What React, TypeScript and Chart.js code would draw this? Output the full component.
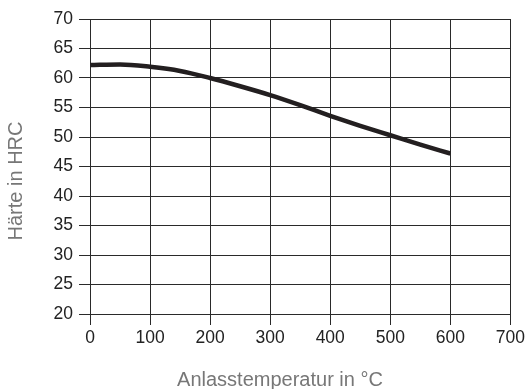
import React, { useEffect, useRef } from "react";
import { Chart, registerables } from "chart.js";

Chart.register(...registerables);

const temperatures = [0, 50, 100, 150, 200, 250, 300, 350, 400, 450, 500, 550, 600];
const hardness = [62.2, 62.3, 61.9, 61.2, 60.0, 58.6, 57.1, 55.4, 53.6, 51.9, 50.3, 48.7, 47.2];
const xTitle = "Anlasstemperatur in °C";
const yTitle = "Härte in HRC";

const titlePlugin = {
  id: "axisTitles",
  afterDraw(chart: any) {
    const ctx = chart.ctx as CanvasRenderingContext2D;
    ctx.save();
    ctx.fillStyle = "#777";
    ctx.font = "20px 'Liberation Sans'";
    ctx.textAlign = "center";
    ctx.textBaseline = "middle";
    ctx.fillText(xTitle, 280, 380);
    ctx.translate(16, 181);
    ctx.rotate(-Math.PI / 2);
    ctx.fillText(yTitle, 0, 0);
    ctx.restore();
  },
};

export default function App() {
  const ref = useRef<HTMLCanvasElement>(null);
  useEffect(() => {
    const ctx = ref.current!;
    const chart = new Chart(ctx, {
      type: "line",
      data: {
        datasets: [
          {
            data: temperatures.map((t, i) => ({ x: t, y: hardness[i] })),
            borderColor: "#231f20",
            borderWidth: 4.5,
            pointRadius: 0,
            cubicInterpolationMode: "monotone",
            fill: false,
          },
        ],
      },
      options: {
        responsive: false,
        animation: false,
        layout: { padding: { top: 19, right: 0, bottom: 0, left: 0 } },
        plugins: { legend: { display: false }, tooltip: { enabled: false } },
        scales: {
          x: {
            type: "linear",
            min: 0,
            max: 700,
            afterFit: (s: any) => {
              s.height = 75;
            },
            ticks: {
              stepSize: 100,
              color: "#222",
              padding: 3,
              font: { family: "Liberation Sans", size: 17.5 },
            },
            grid: { color: "#2a2a2a", lineWidth: 1, tickLength: 11 },
            border: { color: "#2a2a2a", width: 1 },
          },
          y: {
            min: 20,
            max: 70,
            afterFit: (s: any) => {
              s.width = 90;
            },
            ticks: {
              stepSize: 5,
              color: "#222",
              padding: 6,
              font: { family: "Liberation Sans", size: 17.5 },
            },
            grid: { color: "#2a2a2a", lineWidth: 1, tickLength: 11 },
            border: { color: "#2a2a2a", width: 1 },
          },
        },
      },
      plugins: [titlePlugin],
    });
    return () => chart.destroy();
  }, []);
  return (
    <div style={{ position: "fixed", left: 0, top: 0, width: 528, height: 389, background: "#fff" }}>
      <canvas ref={ref} width={528} height={389} style={{ width: 528, height: 389 }} />
    </div>
  );
}
